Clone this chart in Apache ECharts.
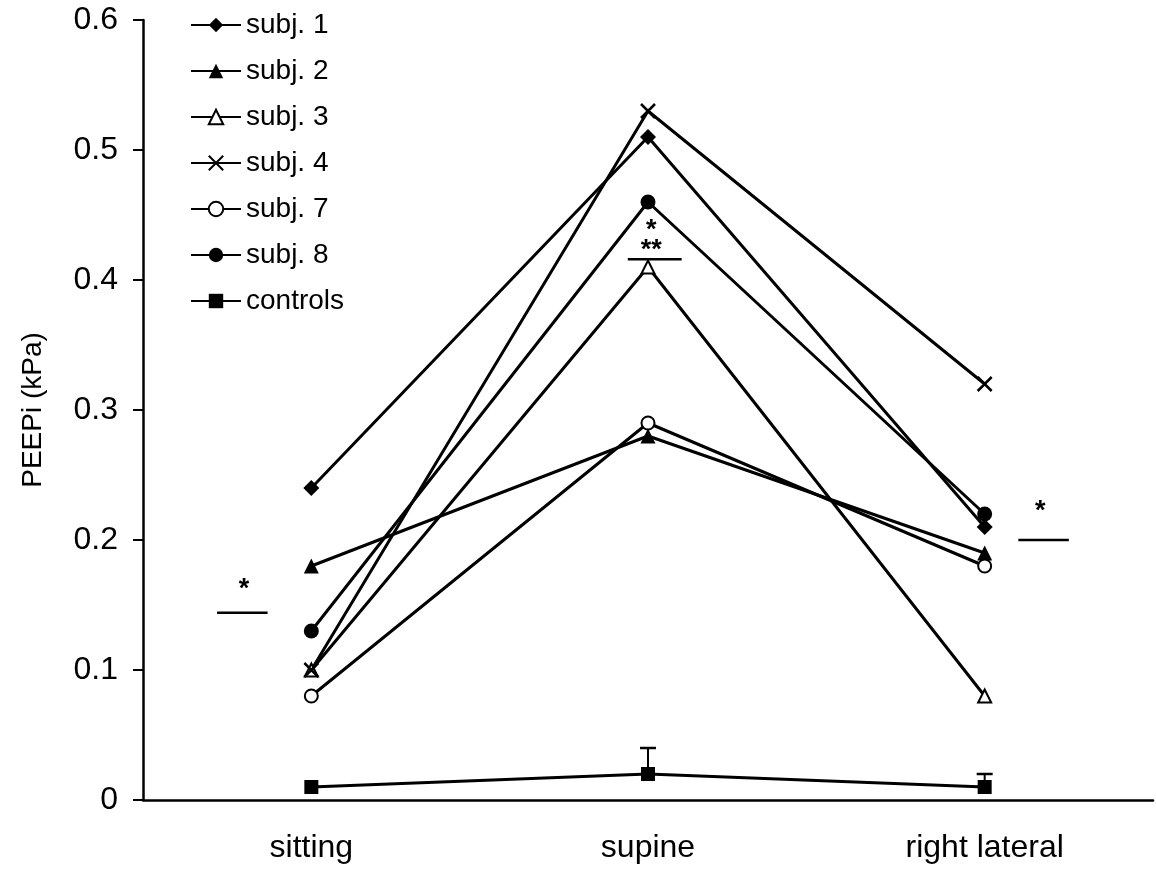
<!DOCTYPE html>
<html>
<head>
<meta charset="utf-8">
<script src="https://cdn.jsdelivr.net/npm/echarts@6/dist/echarts.min.js"></script>
<style>html,body{margin:0;padding:0;background:#fff}#c{width:1156px;height:875px}</style>
</head>
<body>
<div id="c"></div>
<script>
const categories = ['sitting', 'supine', 'right lateral'];
const subj1 = [0.24, 0.51, 0.21];
const subj2 = [0.18, 0.28, 0.19];
const subj3 = [0.10, 0.41, 0.08];
const subj4 = [0.10, 0.53, 0.32];
const subj7 = [0.08, 0.29, 0.18];
const subj8 = [0.13, 0.46, 0.22];
const controls = [0.01, 0.02, 0.01];
const controlsErr = [0.00, 0.02, 0.01];
const yTicks = [0, 0.1, 0.2, 0.3, 0.4, 0.5, 0.6];
// significance markers in data units (x in category index units)
const sigBars = [[-0.28, -0.13, 0.144], [0.94, 1.10, 0.416], [2.10, 2.25, 0.2]];
const sigStars = [[-0.2, 0.162, '*'], [1.01, 0.438, '*'], [1.01, 0.423, '**'], [2.165, 0.222, '*']];

const FONT = 'Liberation Sans, Arial, sans-serif';
const X_PATH = 'path://M0,0L10,10M10,0L0,10';

function lineSeries(name, data, symbol, size, empty) {
  return {
    name: name, type: 'line', data: data,
    xAxisIndex: 0, yAxisIndex: 0,
    symbol: symbol, symbolSize: size, showAllSymbol: true,
    lineStyle: { color: '#000', width: 3 },
    itemStyle: { color: '#000', borderColor: '#000', borderWidth: empty ? 2 : (symbol === X_PATH ? 2.5 : 0) },
    emphasis: { disabled: true },
    z: 3
  };
}

const chart = echarts.init(document.getElementById('c'), null, { renderer: 'canvas' });
chart.setOption({
  animation: false,
  backgroundColor: '#fff',
  textStyle: { fontFamily: FONT },
  grid: { left: 143, right: 3, top: 20, bottom: 75, containLabel: false },
  legend: {
    orient: 'vertical', left: 185, top: 6,
    itemWidth: 50, itemHeight: 18, itemGap: 18,
    textStyle: { fontSize: 28, color: '#000', fontFamily: FONT },
    data: ['subj. 1', 'subj. 2', 'subj. 3', 'subj. 4', 'subj. 7', 'subj. 8', 'controls']
  },
  xAxis: [{
    type: 'category', data: categories, boundaryGap: true,
    axisLine: { onZero: false, lineStyle: { color: '#000', width: 2.5 } },
    axisTick: { show: false },
    axisLabel: { color: '#000', fontSize: 32, margin: 32, fontFamily: FONT },
    splitLine: { show: false }
  }, {
    type: 'value', min: -0.5, max: 2.5, show: false
  }],
  yAxis: {
    type: 'value', min: 0, max: 0.6, interval: 0.1,
    name: 'PEEPi (kPa)', nameLocation: 'middle', nameGap: 96,
    nameTextStyle: { fontSize: 28, color: '#000', fontFamily: FONT },
    axisLine: { show: true, onZero: false, lineStyle: { color: '#000', width: 2.5 } },
    axisTick: { show: true, length: 10, lineStyle: { color: '#000', width: 2 } },
    axisLabel: { color: '#000', fontSize: 32, margin: 25, fontFamily: FONT,
      formatter: v => { const t = yTicks.find(k => Math.abs(k - v) < 1e-9); return t === 0 ? '0' : t.toFixed(1); } },
    splitLine: { show: false }
  },
  series: [
    lineSeries('subj. 1', subj1, 'diamond', 16, false),
    lineSeries('subj. 2', subj2, 'triangle', 15, false),
    lineSeries('subj. 3', subj3, 'emptyTriangle', 13, true),
    lineSeries('subj. 4', subj4, X_PATH, 14, false),
    lineSeries('subj. 7', subj7, 'emptyCircle', 13, true),
    lineSeries('subj. 8', subj8, 'circle', 15, false),
    lineSeries('controls', controls, 'rect', 14, false),
    {
      type: 'custom', xAxisIndex: 0, yAxisIndex: 0, z: 2, silent: true,
      data: controls.map((v, i) => [i, v, v + controlsErr[i]]),
      renderItem: function (params, api) {
        const base = api.coord([api.value(0), api.value(1)]);
        const top = api.coord([api.value(0), api.value(2)]);
        if (Math.abs(top[1] - base[1]) < 1) return null;
        return { type: 'group', children: [
          { type: 'line', shape: { x1: base[0], y1: base[1], x2: top[0], y2: top[1] }, style: { stroke: '#000', lineWidth: 2 } },
          { type: 'line', shape: { x1: top[0] - 8, y1: top[1], x2: top[0] + 8, y2: top[1] }, style: { stroke: '#000', lineWidth: 2.5 } }
        ] };
      }
    },
    {
      type: 'custom', xAxisIndex: 1, yAxisIndex: 0, z: 4, silent: true,
      data: sigBars,
      renderItem: function (params, api) {
        const a = api.coord([api.value(0), api.value(2)]);
        const b = api.coord([api.value(1), api.value(2)]);
        return { type: 'line', shape: { x1: a[0], y1: a[1], x2: b[0], y2: b[1] }, style: { stroke: '#000', lineWidth: 2.5 } };
      }
    },
    {
      type: 'custom', xAxisIndex: 1, yAxisIndex: 0, z: 4, silent: true,
      data: sigStars,
      renderItem: function (params, api) {
        const p = api.coord([api.value(0), api.value(1)]);
        return { type: 'text', x: p[0], y: p[1], style: { text: sigStars[params.dataIndex][2], fill: '#000', fontSize: 27, fontWeight: 'bold', fontFamily: FONT, align: 'center', verticalAlign: 'middle' } };
      }
    }
  ]
});
</script>
</body>
</html>
